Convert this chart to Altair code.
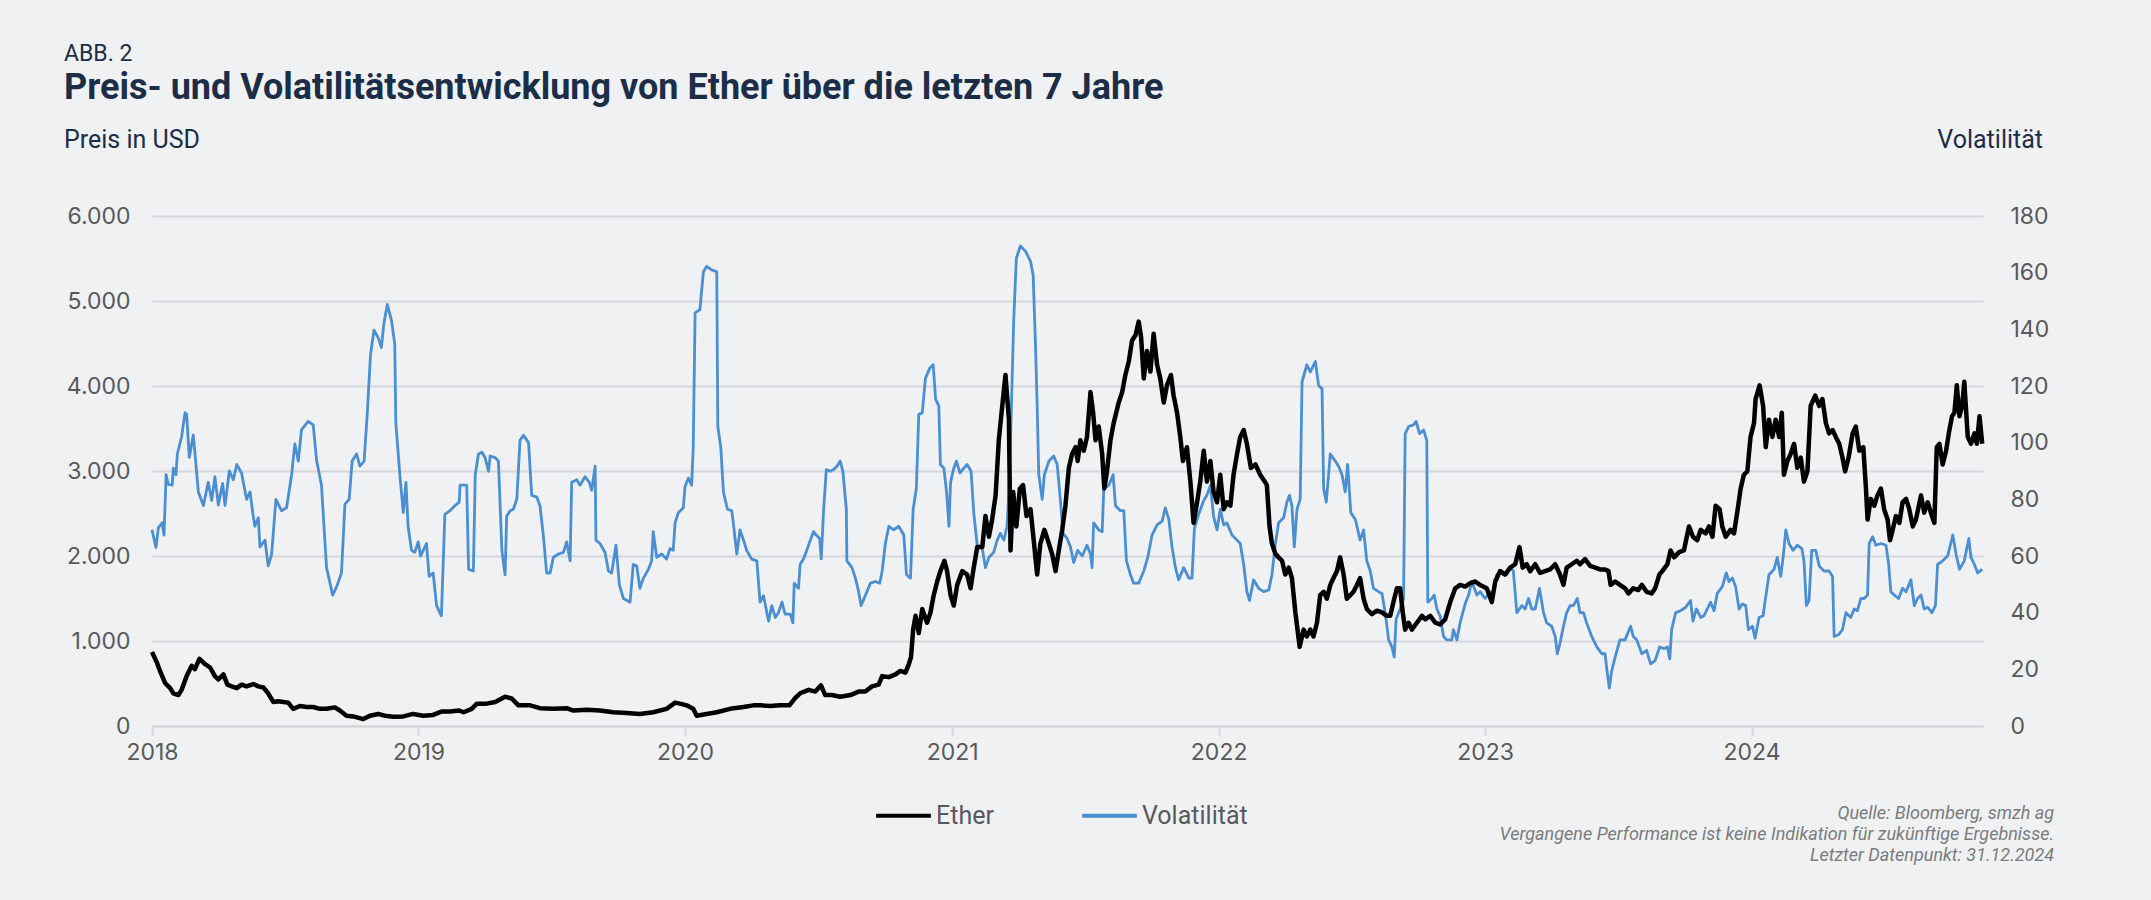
import altair as alt
import pandas as pd

# ---------------- data ----------------
# time as decimal years
vol_t = [
2018.000,2018.015,2018.024,2018.038,2018.045,2018.053,2018.061,2018.076,2018.080,2018.090,2018.095,2018.111,2018.124,2018.130,2018.140,2018.155,
2018.174,2018.193,2018.211,2018.224,2018.236,2018.249,2018.265,2018.274,2018.290,2018.305,2018.318,2018.336,2018.355,2018.368,2018.378,2018.386,
2018.399,2018.405,2018.424,2018.436,2018.449,2018.465,2018.486,2018.505,2018.524,2018.536,2018.549,2018.561,2018.586,2018.605,2018.618,2018.636,
2018.655,2018.678,2018.693,2018.711,2018.724,2018.740,2018.751,2018.768,2018.780,2018.796,2018.808,2018.820,2018.833,2018.849,2018.861,2018.870,
2018.883,2018.899,2018.911,2018.915,2018.930,2018.943,2018.953,2018.961,2018.974,2018.986,2018.999,2019.008,2019.030,2019.040,2019.055,2019.068,
2019.086,2019.099,2019.118,2019.136,2019.153,2019.156,2019.181,2019.188,2019.206,2019.213,2019.225,2019.238,2019.250,2019.263,2019.269,2019.288,
2019.300,2019.306,2019.313,2019.325,2019.331,2019.344,2019.356,2019.369,2019.381,2019.394,2019.413,2019.425,2019.444,2019.456,2019.469,2019.481,
2019.494,2019.506,2019.525,2019.544,2019.556,2019.569,2019.575,2019.594,2019.606,2019.625,2019.641,2019.650,2019.663,2019.666,2019.681,2019.700,
2019.713,2019.725,2019.741,2019.754,2019.769,2019.794,2019.806,2019.819,2019.831,2019.844,2019.863,2019.875,2019.881,2019.894,2019.913,2019.931,
2019.944,2019.956,2019.963,2019.975,2019.994,2020.000,2020.013,2020.025,2020.031,2020.038,2020.056,2020.069,2020.081,2020.100,2020.119,2020.123,
2020.134,2020.144,2020.159,2020.175,2020.181,2020.194,2020.206,2020.219,2020.231,2020.250,2020.269,2020.281,2020.294,2020.313,2020.325,2020.338,
2020.350,2020.363,2020.375,2020.394,2020.404,2020.409,2020.425,2020.431,2020.444,2020.456,2020.469,2020.481,2020.491,2020.504,2020.510,2020.519,
2020.529,2020.544,2020.556,2020.569,2020.581,2020.591,2020.604,2020.606,2020.625,2020.638,2020.650,2020.659,2020.675,2020.694,2020.713,2020.729,
2020.738,2020.750,2020.763,2020.781,2020.800,2020.819,2020.829,2020.844,2020.854,2020.866,2020.875,2020.888,2020.900,2020.916,2020.929,2020.938,
2020.950,2020.956,2020.969,2020.979,2020.988,2020.994,2021.006,2021.016,2021.029,2021.044,2021.056,2021.071,2021.081,2021.094,2021.113,2021.125,
2021.138,2021.156,2021.169,2021.181,2021.194,2021.206,2021.213,2021.221,2021.231,2021.241,2021.256,2021.275,2021.294,2021.304,2021.313,2021.319,
2021.325,2021.338,2021.346,2021.363,2021.381,2021.394,2021.406,2021.416,2021.431,2021.444,2021.456,2021.471,2021.488,2021.506,2021.519,2021.525,
2021.531,2021.550,2021.563,2021.569,2021.588,2021.604,2021.613,2021.631,2021.644,2021.654,2021.669,2021.681,2021.700,2021.719,2021.734,2021.750,
2021.769,2021.788,2021.800,2021.813,2021.825,2021.838,2021.850,2021.869,2021.888,2021.900,2021.909,2021.925,2021.944,2021.956,2021.969,2021.981,
2021.994,2022.006,2022.019,2022.031,2022.050,2022.069,2022.081,2022.094,2022.106,2022.116,2022.131,2022.150,2022.169,2022.188,2022.200,2022.213,
2022.225,2022.244,2022.256,2022.266,2022.275,2022.284,2022.294,2022.306,2022.313,2022.331,2022.344,2022.363,2022.375,2022.388,2022.394,2022.404,
2022.419,2022.438,2022.450,2022.463,2022.475,2022.484,2022.496,2022.513,2022.531,2022.544,2022.556,2022.569,2022.581,2022.600,2022.613,2022.625,
2022.638,2022.650,2022.659,2022.666,2022.681,2022.694,2022.700,2022.713,2022.731,2022.741,2022.754,2022.769,2022.781,2022.785,2022.800,2022.809,
2022.819,2022.831,2022.844,2022.856,2022.875,2022.881,2022.894,2022.906,2022.925,2022.938,2022.950,2022.969,2022.981,2023.000,2023.019,2023.031,
2023.044,2023.063,2023.081,2023.094,2023.106,2023.119,2023.138,2023.150,2023.163,2023.175,2023.188,2023.204,2023.219,2023.231,2023.250,2023.263,
2023.271,2023.281,2023.294,2023.306,2023.319,2023.331,2023.346,2023.356,2023.369,2023.381,2023.400,2023.419,2023.438,2023.450,2023.456,2023.466,
2023.475,2023.488,2023.506,2023.525,2023.546,2023.556,2023.569,2023.588,2023.606,2023.621,2023.638,2023.655,2023.671,2023.684,2023.693,2023.700,
2023.715,2023.734,2023.753,2023.771,2023.780,2023.793,2023.809,2023.821,2023.834,2023.846,2023.859,2023.871,2023.890,2023.905,2023.915,2023.928,
2023.940,2023.953,2023.965,2023.978,2023.988,2024.003,2024.013,2024.028,2024.043,2024.050,2024.065,2024.084,2024.096,2024.109,2024.118,2024.128,
2024.140,2024.155,2024.171,2024.188,2024.196,2024.205,2024.215,2024.225,2024.240,2024.253,2024.271,2024.290,2024.303,2024.309,2024.325,2024.340,
2024.353,2024.371,2024.384,2024.396,2024.409,2024.421,2024.434,2024.440,2024.453,2024.465,2024.484,2024.503,2024.513,2024.521,2024.534,2024.550,
2024.565,2024.578,2024.596,2024.609,2024.621,2024.634,2024.646,2024.659,2024.675,2024.688,2024.696,2024.715,2024.734,2024.753,2024.765,2024.778,
2024.796,2024.813,2024.821,2024.834,2024.846,2024.863]
vol_v = [
69.2,63,70,71.7,67.4,88.7,85.3,85,91,88.7,96,102,110.6,110,94.8,102.7,
82.6,77.8,86,79.6,88,78,85.6,77.8,90,86.9,92.3,89.3,80,82.6,75.3,70.5,
73.5,63.2,65.6,56.5,60.7,80,76,77,88.7,99.6,93.5,104.5,107.5,106.3,93.5,85,
55.9,46.2,49.2,54,78.3,80,93.5,96,91.7,93.5,110.5,131,139.7,137,133.6,142,
148.8,143,134.8,107,88.7,75.3,86,70.5,62,61.3,65,60,64.4,52.8,54,42.5,
38.9,74.7,76,77.7,79,85,85,55.3,54.7,88.7,96,96.6,94.7,89.9,95.3,94.7,
93.5,79,62,53.4,74,76,76.5,80,100.8,102.6,100,81.4,80.8,77.7,66.8,54,
54,59.5,60.7,61.3,65,58.3,86,86.9,85,88,86,83.2,91.7,65.6,64.4,61.3,
54.7,54,63.8,49.8,45,43.7,57,56.5,48.6,52.2,55.3,58.3,68.6,59.5,60.7,58.9,
62.6,62,71.7,75.3,77,84.4,87.5,85,98.4,145.8,147,160.3,162.2,161,160.3,105.7,
98.4,82.6,76.5,76,71.7,60.7,69.2,65.6,62,58.9,58.3,43.7,46,37,42.5,38.3,
40,43.7,39.5,39.5,36.4,50.4,48.6,57,59,62,65.6,68.6,67.4,66.2,59,76.5,
90.5,89.9,90.5,91.7,93.5,89.9,76.5,58.3,55.9,52.2,47.4,42.5,46,50.4,51,50.4,
54.7,64.4,70.5,69.2,70.5,67.4,53.4,52.2,76.5,83.8,110,110.5,122.7,126.3,127.5,115.4,
113,92.3,91,82.6,70.5,86,91,93.5,89.3,91,92.3,89.9,75.3,63.8,62.6,55.9,
59.5,61.3,65.6,68,65.6,70.5,82.6,108,143.3,165.2,169.4,167.6,164,159,133.6,113,
88.7,80,88.7,93.5,95.3,92.3,80,68,66.2,63.2,57.7,62,60,63.8,60.7,55.9,
71.7,69.2,68.6,83.8,85,88.7,77.7,76,76,58.3,53.4,50.4,50.4,54.7,59.5,67.4,
71,72.3,77,72.9,63.2,55.9,51.6,55.9,52.2,52.2,69.8,74.7,79.6,81.4,85,74,
69.2,76.5,71,71.7,67.4,65.6,64.4,57,47.4,44.3,51.6,48.6,47.4,48,53.4,64.4,
71.7,73.5,79,81.4,77.7,63.2,76.5,80,121.5,127.5,125,128.7,120.2,119,83.8,79,
96,93.5,91.7,88.7,82.6,92.3,75.3,72.9,65.6,69.2,58.3,54.7,48.6,47.4,46.8,40,
30.4,27.9,24.3,37.7,41.3,45,103.2,105.7,106.3,107.5,103.2,104.5,100.8,43.7,45,46.2,
41.3,38.9,31.6,30.4,30.4,34,30.4,36.4,43.1,46.2,51,46.2,47.4,45,47.4,46.2,
53.4,54.7,53.4,55.9,54.7,40,42.5,41.3,45,41.3,41.3,48.6,40,36.4,35.2,31.6,
25.5,29.2,35.2,40,42.5,42.5,45,40,40,36.4,31.6,27.9,25.5,25.5,20.6,13.4,
19.4,24.3,30.4,30.4,35.2,31.6,30.4,25.5,26.7,21.9,23.1,27.9,27.3,27.9,23.7,34,
40,40.7,41.9,44.3,37,41.3,38.3,38.9,41.3,43.7,40.7,46.8,49.2,54,51,52.2,
49.2,41.3,43.1,42.5,34,35.2,31,38.3,38.9,43.7,53.4,55.3,59.5,52.8,59.5,69.2,
64.4,62,63.8,62.6,58.3,42.5,44.3,62,62,56.5,54.7,54.7,52.8,31.6,32.2,34,
40,38.3,41.3,40.7,45,45,46.2,64.4,66.8,63.8,64.4,63.8,57,47.4,46.2,45,
48.6,47.4,51.6,42.5,45,46.2,41.3,41.9,40,42.5,57,58.3,60.1,67.4,60.7,55.3,
58.3,66.2,59.5,57,54,55.3]

eth_t = [
2018.000,2018.018,2018.030,2018.049,2018.068,2018.080,2018.099,2018.111,2018.130,2018.149,2018.161,2018.178,2018.199,2018.218,2018.236,2018.249,
2018.268,2018.283,2018.299,2018.318,2018.336,2018.355,2018.380,2018.399,2018.418,2018.436,2018.455,2018.474,2018.493,2018.511,2018.530,2018.555,
2018.580,2018.605,2018.630,2018.655,2018.686,2018.705,2018.730,2018.755,2018.793,2018.818,2018.849,2018.874,2018.905,2018.943,2018.980,2019.018,
2019.055,2019.086,2019.118,2019.153,2019.169,2019.200,2019.219,2019.256,2019.288,2019.325,2019.350,2019.375,2019.419,2019.456,2019.506,2019.556,
2019.581,2019.631,2019.681,2019.731,2019.781,2019.831,2019.881,2019.931,2019.963,2019.981,2020.006,2020.031,2020.044,2020.081,2020.119,2020.169,
2020.219,2020.256,2020.281,2020.319,2020.356,2020.391,2020.413,2020.431,2020.463,2020.488,2020.509,2020.525,2020.550,2020.581,2020.619,2020.650,
2020.675,2020.700,2020.725,2020.738,2020.763,2020.788,2020.806,2020.825,2020.838,2020.846,2020.854,2020.863,2020.875,2020.888,2020.906,2020.919,
2020.931,2020.944,2020.956,2020.971,2020.981,2020.994,2021.006,2021.019,2021.038,2021.056,2021.069,2021.081,2021.094,2021.113,2021.125,2021.138,
2021.150,2021.163,2021.175,2021.188,2021.200,2021.213,2021.219,2021.229,2021.241,2021.254,2021.266,2021.279,2021.294,2021.306,2021.319,2021.331,
2021.346,2021.359,2021.375,2021.388,2021.400,2021.413,2021.425,2021.438,2021.450,2021.463,2021.471,2021.481,2021.494,2021.506,2021.519,2021.529,
2021.538,2021.550,2021.563,2021.571,2021.581,2021.594,2021.606,2021.625,2021.638,2021.650,2021.663,2021.675,2021.688,2021.700,2021.709,2021.719,
2021.731,2021.744,2021.756,2021.769,2021.781,2021.794,2021.806,2021.821,2021.831,2021.844,2021.856,2021.866,2021.881,2021.894,2021.906,2021.919,
2021.931,2021.944,2021.956,2021.969,2021.981,2021.994,2022.006,2022.019,2022.031,2022.044,2022.056,2022.069,2022.081,2022.094,2022.106,2022.121,
2022.138,2022.156,2022.169,2022.181,2022.191,2022.200,2022.213,2022.225,2022.238,2022.250,2022.263,2022.275,2022.288,2022.296,2022.304,2022.319,
2022.331,2022.344,2022.356,2022.369,2022.381,2022.394,2022.406,2022.419,2022.431,2022.444,2022.456,2022.469,2022.481,2022.494,2022.506,2022.519,
2022.531,2022.544,2022.556,2022.575,2022.594,2022.613,2022.631,2022.644,2022.656,2022.669,2022.681,2022.691,2022.700,2022.713,2022.725,2022.744,
2022.763,2022.775,2022.794,2022.813,2022.831,2022.850,2022.869,2022.888,2022.906,2022.925,2022.944,2022.963,2022.981,2023.006,2023.025,2023.038,
2023.056,2023.075,2023.094,2023.113,2023.129,2023.141,2023.156,2023.169,2023.188,2023.206,2023.225,2023.244,2023.263,2023.281,2023.294,2023.306,
2023.325,2023.344,2023.356,2023.375,2023.394,2023.413,2023.431,2023.450,2023.463,2023.471,2023.488,2023.506,2023.525,2023.538,2023.556,2023.575,
2023.588,2023.606,2023.625,2023.638,2023.654,2023.665,2023.684,2023.696,2023.709,2023.728,2023.746,2023.765,2023.780,2023.796,2023.809,2023.828,
2023.840,2023.853,2023.865,2023.880,2023.890,2023.903,2023.921,2023.934,2023.946,2023.959,2023.971,2023.984,2023.996,2024.009,2024.015,2024.030,
2024.043,2024.053,2024.065,2024.078,2024.090,2024.103,2024.113,2024.121,2024.134,2024.146,2024.159,2024.171,2024.184,2024.196,2024.209,2024.221,
2024.238,2024.253,2024.265,2024.278,2024.290,2024.303,2024.315,2024.328,2024.340,2024.350,2024.363,2024.378,2024.390,2024.403,2024.418,2024.428,
2024.434,2024.446,2024.459,2024.471,2024.484,2024.496,2024.509,2024.518,2024.528,2024.540,2024.553,2024.565,2024.578,2024.590,2024.603,2024.615,
2024.634,2024.646,2024.659,2024.675,2024.684,2024.693,2024.703,2024.715,2024.728,2024.738,2024.750,2024.759,2024.768,2024.778,2024.788,2024.796,
2024.809,2024.821,2024.834,2024.843,2024.853,2024.863]
eth_v = [
870,749,648,506,445,385,364,425,587,708,668,790,729,688,587,547,
607,486,466,445,486,466,494,466,453,385,283,292,283,275,202,235,
223,223,202,202,219,182,121,113,81,121,142,121,109,113,142,121,
130,170,170,182,162,202,263,263,283,344,324,243,243,210,202,210,
182,190,182,162,154,142,162,202,275,263,243,202,121,142,162,202,
223,243,243,235,243,243,332,385,425,405,478,364,364,344,364,405,
405,466,486,587,575,607,648,628,729,810,1134,1296,1093,1377,1215,1336,
1539,1700,1822,1944,1822,1539,1417,1660,1822,1782,1620,1863,2105,2105,2470,2227,
2429,2713,3360,3766,4130,3604,2065,2753,2348,2794,2834,2470,2551,2186,1782,2146,
2308,2186,2025,1822,2065,2308,2591,3037,3199,3280,3118,3361,3239,3401,3928,3685,
3361,3523,3199,2794,2996,3361,3563,3806,3928,4130,4292,4535,4596,4758,4575,4089,
4413,4170,4616,4251,4089,3806,4008,4130,3887,3685,3401,3118,3280,2875,2389,2632,
2875,3239,2875,3118,2753,2632,2956,2551,2632,2591,2956,3199,3401,3482,3320,3037,
3077,2956,2895,2834,2348,2146,2025,1984,1944,1782,1863,1741,1336,1134,931,1134,
1053,1134,1053,1215,1539,1579,1498,1660,1741,1822,1984,1782,1498,1539,1579,1660,
1741,1498,1377,1316,1356,1336,1296,1296,1458,1620,1620,1336,1134,1215,1134,1215,
1296,1255,1296,1215,1194,1255,1458,1620,1660,1640,1680,1700,1660,1620,1458,1700,
1822,1782,1863,1903,2105,1863,1903,1822,1903,1802,1822,1842,1903,1782,1660,1863,
1903,1944,1903,1964,1883,1863,1842,1842,1822,1660,1700,1660,1620,1559,1620,1599,
1660,1579,1559,1620,1782,1822,1903,2065,1984,2045,2065,2348,2227,2186,2308,2267,
2348,2227,2591,2551,2348,2227,2308,2267,2510,2794,2956,2996,3401,3563,3847,4008,
3766,3280,3604,3401,3604,3401,3685,2956,3118,3199,3320,3037,3158,2875,2996,3766,
3887,3766,3847,3563,3442,3482,3401,3320,3158,2996,3158,3442,3523,3239,3280,2794,
2429,2672,2591,2713,2794,2551,2429,2186,2308,2470,2389,2632,2672,2551,2348,2429,
2713,2510,2632,2470,2389,3280,3320,3077,3239,3442,3644,3685,4008,3644,3766,4049,
3401,3320,3442,3320,3644,3320]

x_start, x_end = 2018.0, 2024.866
years = [2018, 2019, 2020, 2021, 2022, 2023, 2024]
price_ticks = [0, 1000, 2000, 3000, 4000, 5000, 6000]
vol_ticks = [0, 20, 40, 60, 80, 100, 120, 140, 160, 180]


def to_iso(y):
    yr = int(y)
    start = pd.Timestamp(yr, 1, 1)
    end = pd.Timestamp(yr + 1, 1, 1)
    return (start + (end - start) * (y - yr)).strftime("%Y-%m-%dT%H:%M:%S")


vol_df = pd.DataFrame({"date": [to_iso(t) for t in vol_t], "value": vol_v, "series": "Volatilität"})
eth_df = pd.DataFrame({"date": [to_iso(t) for t in eth_t], "value": eth_v, "series": "Ether"})

# ---------------- layout ----------------
LEFT, TOP = 152, 216
W, H = 1831, 510
TOTAL_W, TOTAL_H = 2151, 900
NAVY = "#1c2d47"
GREY = "#58595b"
BG = "#eff1f3"
GRID = "#d5d8db"
BLUE = "#4b8fd1"
FONT = "Roboto"
NUMFONT = "Inter"
TICKSIZE = 23

x_scale = alt.Scale(domain=[to_iso(x_start), to_iso(x_end)])
color_scale = alt.Scale(domain=["Ether", "Volatilität"], range=["#000000", BLUE])

x_enc = alt.X(
    "date:T",
    scale=x_scale,
    title=None,
    axis=alt.Axis(
        values=[alt.DateTime(year=y, month=1, date=1) for y in years],
        format="%Y",
        grid=False,
        domain=True,
        domainColor=GRID,
        domainWidth=2,
        ticks=True,
        tickColor=GRID,
        tickWidth=2,
        tickSize=9,
        labelFlush=False,
        labelFont=NUMFONT,
        labelFontSize=TICKSIZE,
        labelColor=GREY,
        labelPadding=6,
    ),
)

legend = alt.Legend(
    title=None,
    orient="none",
    legendX=722,
    legendY=570,
    direction="horizontal",
    symbolType="stroke",
    symbolStrokeWidth=4,
    symbolSize=3000,
    labelFont=FONT,
    labelFontSize=25,
    labelColor=GREY,
    labelOffset=3,
    columnPadding=80,
)

vol_line = alt.Chart(vol_df).mark_line(strokeWidth=2.8, strokeJoin="round").encode(
    x=x_enc,
    y=alt.Y(
        "value:Q",
        scale=alt.Scale(domain=[0, 180], nice=False, zero=True),
        title=None,
        axis=alt.Axis(
            orient="right",
            values=vol_ticks,
            grid=False,
            domain=False,
            ticks=False,
            labelFont=NUMFONT,
            labelFontSize=TICKSIZE,
            labelColor=GREY,
            labelPadding=27,
        ),
    ),
    color=alt.Color("series:N", scale=color_scale, legend=legend),
)

eth_line = alt.Chart(eth_df).mark_line(strokeWidth=4.5, strokeJoin="round").encode(
    x=x_enc,
    y=alt.Y(
        "value:Q",
        scale=alt.Scale(domain=[0, 6000], nice=False, zero=True),
        title=None,
        axis=alt.Axis(
            orient="left",
            values=price_ticks,
            labelExpr="replace(format(datum.value, ','), ',', '.')",
            grid=True,
            gridColor=GRID,
            gridWidth=2,
            domain=False,
            ticks=False,
            labelFont=NUMFONT,
            labelFontSize=TICKSIZE,
            labelColor=GREY,
            labelPadding=22,
        ),
    ),
    color=alt.Color("series:N", scale=color_scale, legend=legend),
)

one = pd.DataFrame({"a": [0]})


def label(txt, x, y, size, color=NAVY, weight="normal", align="left", style="normal", font=FONT):
    return alt.Chart(one).mark_text(
        text=txt,
        align=align,
        baseline="alphabetic",
        font=font,
        fontSize=size,
        fontWeight=weight,
        fontStyle=style,
        color=color,
    ).encode(x=alt.value(x), y=alt.value(y))


FOOT = "#7b7c7e"
texts = [
    label("ABB. 2", 64 - LEFT, 61 - TOP, 23),
    label("Preis- und Volatilitätsentwicklung von Ether über die letzten 7 Jahre", 64 - LEFT, 99 - TOP, 36, weight="bold"),
    label("Preis in USD", 64 - LEFT, 148 - TOP, 25),
    label("Volatilität", 2043 - LEFT, 148 - TOP, 25, align="right"),
    label("Quelle: Bloomberg, smzh ag", 2054 - LEFT, 819 - TOP, 18, color=FOOT, align="right", style="italic"),
    label("Vergangene Performance ist keine Indikation für zukünftige Ergebnisse.", 2054 - LEFT, 840 - TOP, 18, color=FOOT, align="right", style="italic"),
    label("Letzter Datenpunkt: 31.12.2024", 2054 - LEFT, 861 - TOP, 18, color=FOOT, align="right", style="italic"),
]

chart = (
    alt.layer(vol_line, eth_line, *texts)
    .resolve_scale(y="independent")
    .properties(
        width=W,
        height=H,
        autosize=alt.AutoSizeParams(type="none"),
        padding={"left": LEFT, "top": TOP, "right": TOTAL_W - LEFT - W, "bottom": TOTAL_H - TOP - H},
    )
    .configure(background=BG)
    .configure_view(stroke=None)
)

chart.save("out.html", embed_options={"renderer": "svg", "actions": False})
